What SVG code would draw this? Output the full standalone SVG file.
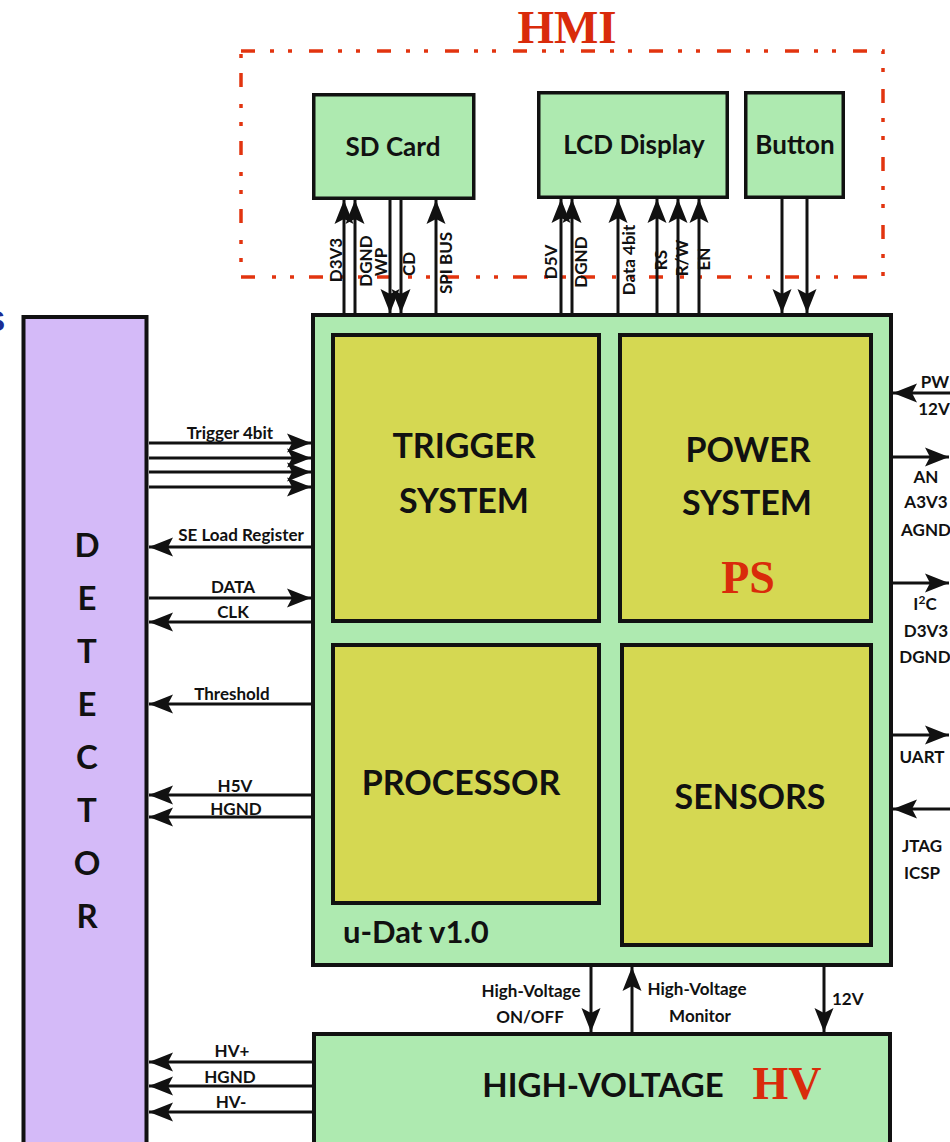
<svg xmlns="http://www.w3.org/2000/svg" width="950" height="1142" viewBox="0 0 950 1142">
<style>
.box{stroke:#111;stroke-width:3.5}
.thick{stroke-width:4}
.green{fill:#aeeab0}
.yellow{fill:#d5d852}
.purple{fill:#d4baf8}
.conn line{stroke:#111;stroke-width:3;fill:none}
.t{font-family:Lato,'Liberation Sans',sans-serif;font-weight:bold;fill:#111}
.lbl{font-size:17px;text-anchor:middle}
.big{font-size:34px;text-anchor:middle}
.mid{font-size:26px;text-anchor:middle}
.red{font-family:'Liberation Serif',serif;font-weight:bold;fill:#d92b0b;text-anchor:middle}
</style>
<defs>
<marker id="ah" viewBox="-25 -11 26 22" refX="0" refY="0" markerWidth="26" markerHeight="22" markerUnits="userSpaceOnUse" orient="auto">
<path d="M0,0 L-24,-9.5 L-19,0 L-24,9.5 Z" fill="#111"/>
</marker>
</defs>
<rect width="950" height="1142" fill="#fff"/>

<text x="5" y="331" font-family="'Liberation Sans',sans-serif" font-weight="bold" font-size="30" fill="#1b2c94" text-anchor="end">S</text>

<g id="hmi">
<rect x="241" y="51" width="642" height="226" fill="none" stroke="#e2340f" stroke-width="3.5" stroke-dasharray="14 15 4 14 4 17"/>
<text class="red" x="567" y="43" font-size="47">HMI</text>
</g>

<g id="sd-card">
<rect class="box green" x="313.75" y="94.75" width="160" height="103.5"/>
<text class="t mid" x="393" y="156">SD Card</text>
</g>

<g id="lcd-display">
<rect class="box green" x="538.75" y="92.75" width="188.5" height="104.5"/>
<text class="t mid" x="634" y="154">LCD Display</text>
</g>

<g id="button">
<rect class="box green" x="745.75" y="92.75" width="97.5" height="104.5"/>
<text class="t mid" x="795" y="154">Button</text>
</g>

<g id="detector">
<rect class="box thick purple" x="23.5" y="317" width="123" height="850"/>
<g class="t" font-size="33" text-anchor="middle">
<text x="87" y="557">D</text>
<text x="87" y="610">E</text>
<text x="87" y="663">T</text>
<text x="87" y="716">E</text>
<text x="87" y="769">C</text>
<text x="87" y="822">T</text>
<text x="87" y="875">O</text>
<text x="87" y="928">R</text>
</g>
</g>

<g id="u-dat">
<rect class="box thick green" x="313" y="315" width="578" height="650"/>
<text class="t" x="343" y="943" font-size="31">u-Dat v1.0</text>
</g>

<g id="trigger-system">
<rect class="box thick yellow" x="333" y="335" width="266" height="286"/>
<text class="t big" x="464" y="458">TRIGGER</text>
<text class="t big" x="464" y="513">SYSTEM</text>
</g>

<g id="power-system">
<rect class="box thick yellow" x="620" y="335" width="251" height="286"/>
<text class="t big" x="748" y="462">POWER</text>
<text class="t big" x="747" y="515">SYSTEM</text>
<text class="red" x="748" y="593" font-size="46">PS</text>
</g>

<g id="processor">
<rect class="box thick yellow" x="333" y="645" width="266" height="258"/>
<text class="t big" x="461" y="795">PROCESSOR</text>
</g>

<g id="sensors">
<rect class="box thick yellow" x="622" y="645" width="249" height="300"/>
<text class="t big" x="750" y="809">SENSORS</text>
</g>

<g id="high-voltage">
<rect class="box thick green" x="314" y="1034" width="576" height="120"/>
<text class="t" x="603" y="1097" font-size="33" text-anchor="middle">HIGH-VOLTAGE</text>
<text class="red" x="787" y="1099" font-size="46">HV</text>
</g>

<g id="connectors" class="conn">
<line x1="344" y1="313" x2="344" y2="200" marker-end="url(#ah)"/>
<line x1="355" y1="313" x2="355" y2="200" marker-end="url(#ah)"/>
<line x1="390" y1="200" x2="390" y2="313" marker-end="url(#ah)"/>
<line x1="401" y1="200" x2="401" y2="313" marker-end="url(#ah)"/>
<line x1="436" y1="313" x2="436" y2="200" marker-end="url(#ah)"/>
<line x1="561" y1="313" x2="561" y2="199" marker-end="url(#ah)"/>
<line x1="572" y1="313" x2="572" y2="199" marker-end="url(#ah)"/>
<line x1="618" y1="313" x2="618" y2="199" marker-end="url(#ah)"/>
<line x1="657" y1="313" x2="657" y2="199" marker-end="url(#ah)"/>
<line x1="678" y1="313" x2="678" y2="199" marker-end="url(#ah)"/>
<line x1="699" y1="313" x2="699" y2="199" marker-end="url(#ah)"/>
<line x1="782" y1="199" x2="782" y2="313" marker-end="url(#ah)"/>
<line x1="807" y1="199" x2="807" y2="313" marker-end="url(#ah)"/>
<line x1="149" y1="443" x2="311" y2="443" marker-end="url(#ah)"/>
<line x1="149" y1="458" x2="311" y2="458" marker-end="url(#ah)"/>
<line x1="149" y1="472" x2="311" y2="472" marker-end="url(#ah)"/>
<line x1="149" y1="487" x2="311" y2="487" marker-end="url(#ah)"/>
<line x1="311" y1="547" x2="149" y2="547" marker-end="url(#ah)"/>
<line x1="149" y1="598" x2="311" y2="598" marker-end="url(#ah)"/>
<line x1="311" y1="622" x2="149" y2="622" marker-end="url(#ah)"/>
<line x1="311" y1="704" x2="149" y2="704" marker-end="url(#ah)"/>
<line x1="311" y1="795" x2="149" y2="795" marker-end="url(#ah)"/>
<line x1="311" y1="817" x2="149" y2="817" marker-end="url(#ah)"/>
<line x1="312" y1="1062" x2="149" y2="1062" marker-end="url(#ah)"/>
<line x1="312" y1="1086" x2="149" y2="1086" marker-end="url(#ah)"/>
<line x1="312" y1="1112" x2="149" y2="1112" marker-end="url(#ah)"/>
<line x1="950" y1="393" x2="893" y2="393" marker-end="url(#ah)"/>
<line x1="893" y1="457" x2="949" y2="457" marker-end="url(#ah)"/>
<line x1="893" y1="583" x2="949" y2="583" marker-end="url(#ah)"/>
<line x1="893" y1="735" x2="949" y2="735" marker-end="url(#ah)"/>
<line x1="950" y1="809" x2="893" y2="809" marker-end="url(#ah)"/>
<line x1="591" y1="967" x2="591" y2="1032" marker-end="url(#ah)"/>
<line x1="632" y1="1032" x2="632" y2="967" marker-end="url(#ah)"/>
<line x1="824" y1="967" x2="824" y2="1032" marker-end="url(#ah)"/>
</g>

<g id="labels" class="t lbl">
<text transform="translate(342,260) rotate(-90)">D3V3</text>
<text transform="translate(372,261) rotate(-90)">DGND</text>
<text transform="translate(387,262) rotate(-90)">WP</text>
<text transform="translate(415,264) rotate(-90)">CD</text>
<text transform="translate(452,263) rotate(-90)">SPI BUS</text>
<text transform="translate(557,262) rotate(-90)">D5V</text>
<text transform="translate(587,262) rotate(-90)">DGND</text>
<text transform="translate(635,260) rotate(-90)">Data 4bit</text>
<text transform="translate(667,260) rotate(-90)">RS</text>
<text transform="translate(688,258) rotate(-90)">R/W</text>
<text transform="translate(710,259) rotate(-90)">EN</text>

<text x="230" y="439">Trigger 4bit</text>
<text x="241" y="541">SE Load Register</text>
<text x="233" y="593">DATA</text>
<text x="233" y="618">CLK</text>
<text x="232" y="700">Threshold</text>
<text x="235" y="792">H5V</text>
<text x="236" y="815">HGND</text>
<text x="232" y="1057">HV+</text>
<text x="230" y="1083">HGND</text>
<text x="231" y="1108">HV-</text>

<text x="935" y="388">PW</text>
<text x="934" y="415">12V</text>
<text x="926" y="483">AN</text>
<text x="926" y="508">A3V3</text>
<text x="926" y="536">AGND</text>
<text x="925" y="610">I<tspan dy="-6" font-size="12">2</tspan><tspan dy="6">C</tspan></text>
<text x="926" y="637">D3V3</text>
<text x="925" y="663">DGND</text>
<text x="922" y="763">UART</text>
<text x="922" y="852">JTAG</text>
<text x="922" y="879">ICSP</text>

<text x="531" y="997">High-Voltage</text>
<text x="530" y="1023">ON/OFF</text>
<text x="697" y="995">High-Voltage</text>
<text x="700" y="1022">Monitor</text>
<text x="832" y="1005" text-anchor="start">12V</text>
</g>
</svg>
